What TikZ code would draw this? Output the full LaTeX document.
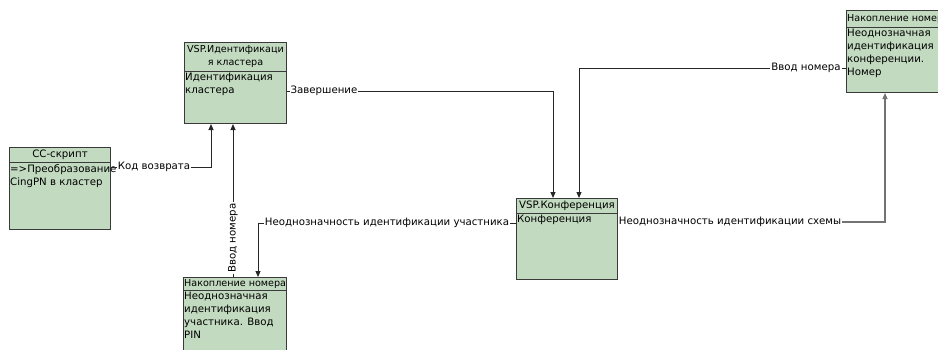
\documentclass[tikz,border=0pt]{standalone}
\usepackage{fontspec}
\setmainfont{DejaVu Sans}
\usetikzlibrary{arrows.meta,calc}
\definecolor{boxfill}{HTML}{C2DABF}
\definecolor{boxline}{HTML}{3A3A3A}
\tikzset{
  box/.style={draw=boxline, fill=boxfill, line width=1pt, rectangle, inner sep=0pt, anchor=north west},
  hdr/.style={draw=boxline, line width=0.9pt},
  txt/.style={font=\fontsize{10.2}{13}\selectfont, inner sep=0pt, align=left},
  htxt/.style={font=\fontsize{9.6}{13}\selectfont, inner sep=0pt, align=left},
  lbl/.style={font=\fontsize{10.2}{13}\selectfont, fill=white, inner xsep=1pt, inner ysep=1.5pt},
  conn/.style={draw=black!85, line width=1pt},
  grayconn/.style={draw=black!55, line width=1.1pt},
  arr/.style={-{Triangle[length=6pt,width=5pt]}}
}
\begin{document}
\begin{tikzpicture}[x=1pt,y=1pt]
\useasboundingbox (0,0) rectangle (938,-349);
\clip (0,0) rectangle (938,-349);
% boxes
\node[box, minimum width=101pt, minimum height=82pt] (b1) at (9,-147) {};
\node[box, minimum width=102pt, minimum height=81pt] (b2) at (184,-42) {};
\node[box, minimum width=103pt, minimum height=95pt] (b3) at (183,-277) {};
\node[box, minimum width=101pt, minimum height=81pt] (b4) at (516,-198) {};
\node[box, minimum width=115pt, minimum height=82pt] (b5) at (846,-10) {};
% header separators
\draw[hdr] ([yshift=-15pt]b1.north west) -- ([yshift=-15pt]b1.north east);
\draw[hdr] ([yshift=-29pt]b2.north west) -- ([yshift=-29pt]b2.north east);
\draw[hdr] ([yshift=-13pt]b3.north west) -- ([yshift=-13pt]b3.north east);
\draw[hdr] ([yshift=-15pt]b4.north west) -- ([yshift=-15pt]b4.north east);
\draw[hdr] ([yshift=-17pt]b5.north west) -- ([yshift=-17pt]b5.north east);
% header texts
\node[txt, anchor=center] (h1) at ($(b1.north)+(0,-7.5)$) {CC-скрипт};
\node[htxt, anchor=center, align=center] (h2) at ($(b2.north)+(0,-14.5)$) {VSP.Идентификаци\\я кластера};
\node[htxt, anchor=west] (h3) at ($(b3.north west)+(1,-6.5)$) {Накопление номера};
\node[txt, anchor=center] (h4) at ($(b4.north)+(0,-7.5)$) {VSP.Конференция};
\node[htxt, anchor=west] (h5) at ($(b5.north west)+(1,-8.5)$) {Накопление номера};
% body texts
\node[txt, anchor=north west] (t1) at ($(b1.north west)+(1,-17)$) {=>Преобразование\\CingPN в кластер};
\node[txt, anchor=north west] (t2) at ($(b2.north west)+(1,-31)$) {Идентификация\\кластера};
\node[txt, anchor=north west] (t3) at ($(b3.north west)+(1,-15)$) {Неоднозначная\\идентификация\\участника. Ввод\\PIN};
\node[txt, anchor=north west] (t4) at ($(b4.north west)+(1,-17)$) {Конференция};
\node[txt, anchor=north west] (t5) at ($(b5.north west)+(1,-19)$) {Неоднозначная\\идентификация\\конференции.\\Номер};
% connector points
\coordinate (c1) at (211,-167);
\coordinate (c3) at (553,-91);
\coordinate (c4) at (579,-68);
\coordinate (c5) at (258,-223);
\coordinate (c6) at (885,-222);
% connectors
\draw[conn, arr] (b1.east |- c1) -- (c1) -- (c1 |- b2.south);
\draw[conn, arr] (233,0 |- b3.north) -- (233,0 |- b2.south);
\draw[conn, arr] (b2.east |- c3) -- (c3) -- (c3 |- b4.north);
\draw[conn, arr] (b5.west |- c4) -- (c4) -- (c4 |- b4.north);
\draw[conn, arr] (b4.west |- c5) -- (c5) -- (c5 |- b3.north);
\draw[conn] (b4.east |- c6) -- (834,-222);
\draw[grayconn, arr] (834,-222) -- (c6) -- (c6 |- b5.south);
% labels
\node[lbl] (l1) at (154,-167) {Код возврата};
\node[lbl, rotate=90] (l2) at (233,-238) {Ввод номера};
\node[lbl] (l3) at (324,-91) {Завершение};
\node[lbl] (l4) at (806,-68) {Ввод номера};
\node[lbl] (l5) at (387,-223) {Неоднозначность идентификации участника};
\node[lbl] (l6) at (730,-222) {Неоднозначность идентификации схемы};
\end{tikzpicture}
\end{document}
